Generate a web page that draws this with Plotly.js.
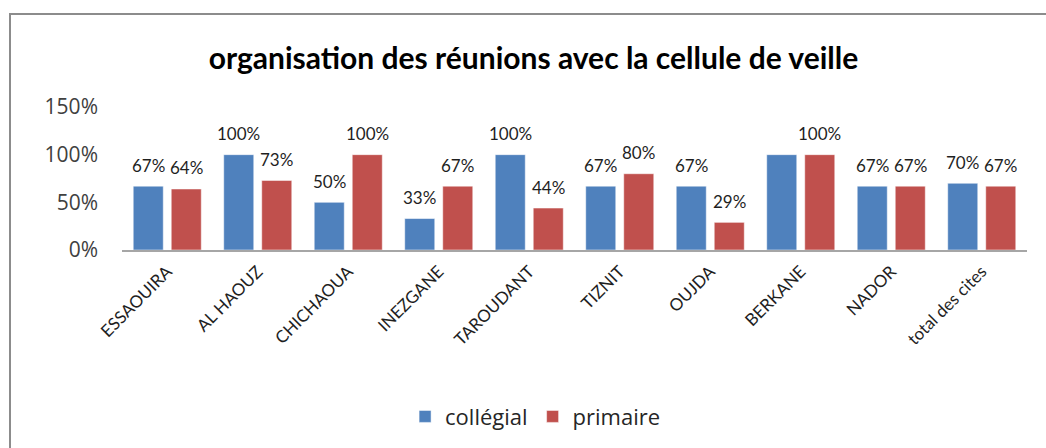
<!DOCTYPE html>
<html>
<head>
<meta charset="utf-8">
<script src="https://cdn.plot.ly/plotly-3.0.1.min.js"></script>
<style>
  html, body { margin: 0; padding: 0; background: #fff; }
  #chart { width: 1046px; height: 448px; position: absolute; left: 0; top: 0; }
  #frame { position: absolute; left: 9px; top: 13px; width: 1100px; height: 500px;
           border: 2px solid #8c8c8c; pointer-events: none; box-sizing: border-box; }
</style>
</head>
<body>
<div id="chart"></div>
<div id="frame"></div>
<script>
const categories = ["ESSAOUIRA", "AL HAOUZ", "CHICHAOUA", "INEZGANE", "TAROUDANT",
                    "TIZNIT", "OUJDA", "BERKANE", "NADOR", "total des cites"];
const collegial = [0.67, 1.00, 0.50, 0.33, 1.00, 0.67, 0.67, 1.00, 0.67, 0.70];
const primaire  = [0.64, 0.73, 1.00, 0.67, 0.44, 0.80, 0.29, 1.00, 0.67, 0.67];
const collegialLabels = ["67%", "100%", "50%", "33%", "100%", "67%", "67%", "", "67%", "70%"];
const primaireLabels  = ["64%", "73%", "100%", "67%", "44%", "80%", "29%", "100%", "67%", "67%"];
const yTickVals = [0, 0.5, 1.0, 1.5];
const yTickText = ["0%", "50%", "100%", "150%"];
const seriesNames = ["collégial", "primaire"];

const BLUE = "#4F81BD", RED = "#C0504D";
const LABEL_FONT = "Lato, 'Open Sans', sans-serif";

const traces = [
  { type: "bar", name: seriesNames[0], x: categories, y: collegial,
    marker: { color: BLUE, line: { color: "rgba(255,255,255,0.5)", width: 1 } },
    hoverinfo: "skip" },
  { type: "bar", name: seriesNames[1], x: categories, y: primaire,
    marker: { color: RED, line: { color: "rgba(255,255,255,0.5)", width: 1 } },
    hoverinfo: "skip" }
];

const annotations = [];
categories.forEach((c, i) => {
  if (collegialLabels[i]) annotations.push({
    x: c, y: collegial[i], xref: "x", yref: "y", text: collegialLabels[i],
    showarrow: false, yanchor: "middle", xshift: -19, yshift: 21,
    font: { family: LABEL_FONT, size: 17, color: "#1f1f1f" }
  });
  if (primaireLabels[i]) annotations.push({
    x: c, y: primaire[i], xref: "x", yref: "y", text: primaireLabels[i],
    showarrow: false, yanchor: "middle", xshift: 19, yshift: 21,
    font: { family: LABEL_FONT, size: 17, color: "#1f1f1f" }
  });
});

const layout = {
  width: 1046, height: 448,
  margin: { l: 122, r: 19, t: 107, b: 197, pad: 0 },
  paper_bgcolor: "#fff", plot_bgcolor: "#fff",
  title: { text: "<b>organisation des réunions avec la cellule de veille</b>",
           x: 0.51, xanchor: "center", y: 0.87, yanchor: "middle",
           font: { family: LABEL_FONT, size: 30, color: "#000" } },
  barmode: "group", bargap: 0.16, bargroupgap: 0.21,
  xaxis: { type: "category", showgrid: false, showline: true, linecolor: "#a6a6a6",
           linewidth: 2, ticks: "", tickangle: -45, ticklabelstandoff: 3,
           tickfont: { family: LABEL_FONT, size: 17, color: "#1f1f1f" }, zeroline: false },
  yaxis: { range: [0, 1.5], tickvals: yTickVals, ticktext: yTickText, showgrid: false,
           showline: false, zeroline: false, ticks: "", ticklabelstandoff: 23,
           tickfont: { family: "'Open Sans', sans-serif", size: 21, color: "#404040" } },
  showlegend: true,
  legend: { orientation: "h", x: 0.457, xanchor: "center", y: -1.15, yanchor: "middle",
            font: { family: "'Open Sans', sans-serif", size: 22, color: "#262626" }, itemwidth: 30,
            traceorder: "normal" },
  annotations: annotations
};

Plotly.newPlot("chart", traces, layout, { displayModeBar: false, staticPlot: true });
</script>
</body>
</html>
